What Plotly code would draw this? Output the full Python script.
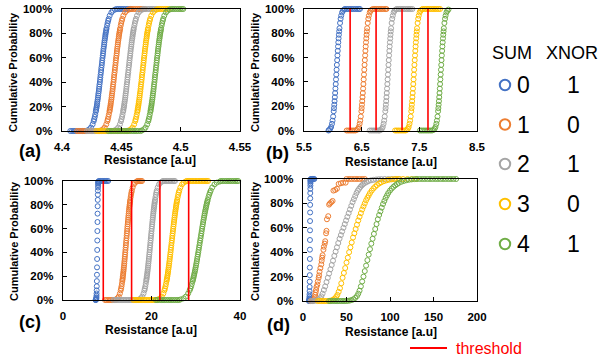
import plotly.graph_objects as go

W, H = 602, 362
FONT = "Liberation Sans, Arial, sans-serif"

# ---------------- legend data ----------------
sums = [0, 1, 2, 3, 4]
xnor = [1, 0, 1, 0, 1]
colors = ["#4472C4", "#ED7D31", "#A5A5A5", "#FFC000", "#70AD47"]
threshold_color = "#FF0000"
pct_ticks = [0, 20, 40, 60, 80, 100]
pct_labels = ["0%", "20%", "40%", "60%", "80%", "100%"]

# ---------------- panel (a) ----------------
a_levels = [0.47, 1.39, 2.87, 5.48, 8.08, 9.68, 11.51, 13.57, 15.87, 17.11, 18.41, 19.77, 21.19, 22.66,
            24.20, 25.78, 27.43, 29.12, 30.85, 32.64, 34.46, 36.32, 38.21, 40.13, 42.07, 44.04, 46.02,
            48.01, 50.0, 51.99, 53.98, 55.96, 57.93, 59.87, 61.79, 63.68, 65.54, 67.36, 69.15, 70.88,
            72.57, 74.22, 75.80, 77.34, 78.81, 80.23, 81.59, 82.89, 84.13, 86.43, 88.49, 90.32, 91.92,
            94.52, 97.13, 98.61, 99.53]
a_x0 = [4.4213, 4.4231, 4.4244, 4.4258, 4.4267, 4.4271, 4.4276, 4.4280, 4.4285, 4.4287, 4.4289, 4.4292,
        4.4294, 4.4296, 4.4298, 4.4301, 4.4303, 4.4305, 4.4307, 4.4310, 4.4312, 4.4314, 4.4316, 4.4319,
        4.4321, 4.4323, 4.4325, 4.4328, 4.4330, 4.4332, 4.4335, 4.4337, 4.4339, 4.4341, 4.4344, 4.4346,
        4.4348, 4.4350, 4.4353, 4.4355, 4.4357, 4.4359, 4.4362, 4.4364, 4.4366, 4.4368, 4.4371, 4.4373,
        4.4375, 4.4380, 4.4384, 4.4389, 4.4393, 4.4402, 4.4416, 4.4429, 4.4447]
a_x1 = [4.4328, 4.4346, 4.4359, 4.4373, 4.4382, 4.4386, 4.4391, 4.4395, 4.4400, 4.4402, 4.4404, 4.4407,
        4.4409, 4.4411, 4.4413, 4.4416, 4.4418, 4.4420, 4.4422, 4.4425, 4.4427, 4.4429, 4.4431, 4.4434,
        4.4436, 4.4438, 4.4440, 4.4443, 4.4445, 4.4447, 4.4450, 4.4452, 4.4454, 4.4456, 4.4459, 4.4461,
        4.4463, 4.4465, 4.4468, 4.4470, 4.4472, 4.4474, 4.4477, 4.4479, 4.4481, 4.4483, 4.4486, 4.4488,
        4.4490, 4.4495, 4.4499, 4.4504, 4.4508, 4.4517, 4.4531, 4.4544, 4.4562]
a_x2 = [4.4443, 4.4461, 4.4474, 4.4488, 4.4497, 4.4501, 4.4506, 4.4510, 4.4515, 4.4517, 4.4519, 4.4522,
        4.4524, 4.4526, 4.4528, 4.4531, 4.4533, 4.4535, 4.4537, 4.4540, 4.4542, 4.4544, 4.4546, 4.4549,
        4.4551, 4.4553, 4.4555, 4.4558, 4.4560, 4.4562, 4.4565, 4.4567, 4.4569, 4.4571, 4.4574, 4.4576,
        4.4578, 4.4580, 4.4583, 4.4585, 4.4587, 4.4589, 4.4592, 4.4594, 4.4596, 4.4598, 4.4601, 4.4603,
        4.4605, 4.4610, 4.4614, 4.4619, 4.4623, 4.4632, 4.4646, 4.4659, 4.4677]
a_x3 = [4.4563, 4.4581, 4.4594, 4.4608, 4.4617, 4.4621, 4.4626, 4.4630, 4.4635, 4.4637, 4.4639, 4.4642,
        4.4644, 4.4646, 4.4648, 4.4651, 4.4653, 4.4655, 4.4657, 4.4660, 4.4662, 4.4664, 4.4666, 4.4669,
        4.4671, 4.4673, 4.4675, 4.4678, 4.4680, 4.4682, 4.4685, 4.4687, 4.4689, 4.4691, 4.4694, 4.4696,
        4.4698, 4.4700, 4.4703, 4.4705, 4.4707, 4.4709, 4.4712, 4.4714, 4.4716, 4.4718, 4.4721, 4.4723,
        4.4725, 4.4730, 4.4734, 4.4739, 4.4743, 4.4752, 4.4766, 4.4779, 4.4797]
a_x4 = [4.4673, 4.4691, 4.4704, 4.4718, 4.4727, 4.4731, 4.4736, 4.4740, 4.4745, 4.4747, 4.4749, 4.4752,
        4.4754, 4.4756, 4.4758, 4.4761, 4.4763, 4.4765, 4.4767, 4.4770, 4.4772, 4.4774, 4.4776, 4.4779,
        4.4781, 4.4783, 4.4785, 4.4788, 4.4790, 4.4792, 4.4795, 4.4797, 4.4799, 4.4801, 4.4804, 4.4806,
        4.4808, 4.4810, 4.4813, 4.4815, 4.4817, 4.4819, 4.4822, 4.4824, 4.4826, 4.4828, 4.4831, 4.4833,
        4.4835, 4.4840, 4.4844, 4.4849, 4.4853, 4.4862, 4.4876, 4.4889, 4.4907]
a_low0 = [4.4070, 4.4085, 4.4100, 4.4115, 4.4130, 4.4145, 4.4160, 4.4175, 4.4190, 4.4203]
a_high0 = [4.4460, 4.4475, 4.4490, 4.4505, 4.4520, 4.4535, 4.4550, 4.4565, 4.4580]
a_low1 = [4.4126, 4.4141, 4.4156, 4.4171, 4.4186, 4.4201, 4.4216, 4.4231, 4.4246, 4.4261, 4.4276,
          4.4291, 4.4306, 4.4318]
a_high1 = [4.4575, 4.4590, 4.4605, 4.4620, 4.4635, 4.4650, 4.4665, 4.4680, 4.4695]
a_low2 = [4.4210, 4.4225, 4.4240, 4.4255, 4.4270, 4.4285, 4.4300, 4.4315, 4.4330, 4.4345, 4.4360,
          4.4375, 4.4390, 4.4405, 4.4420, 4.4433]
a_high2 = [4.4690, 4.4705, 4.4720, 4.4735, 4.4750, 4.4765, 4.4780, 4.4795]
a_low3 = [4.4290, 4.4305, 4.4320, 4.4335, 4.4350, 4.4365, 4.4380, 4.4395, 4.4410, 4.4425, 4.4440,
          4.4455, 4.4470, 4.4485, 4.4500, 4.4515, 4.4530, 4.4545, 4.4555]
a_high3 = [4.4810, 4.4825, 4.4840, 4.4855, 4.4870, 4.4885, 4.4900]
a_low4 = [4.4390, 4.4405, 4.4420, 4.4435, 4.4450, 4.4465, 4.4480, 4.4495, 4.4510, 4.4525, 4.4540,
          4.4555, 4.4570, 4.4585, 4.4600, 4.4615, 4.4630, 4.4645, 4.4663]
a_high4 = [4.4920, 4.4935, 4.4950, 4.4965, 4.4980, 4.4995, 4.5010, 4.5022]

# ---------------- panel (b) ----------------
b_levels = [0.47, 1.39, 2.87, 5.48, 8.08, 11.51, 15.87, 18.41, 21.19, 24.20, 27.43, 30.85, 34.46, 38.21,
            42.07, 46.02, 50.0, 53.98, 57.93, 61.79, 65.54, 69.15, 72.57, 75.80, 78.81, 81.59, 84.13,
            88.49, 91.92, 94.52, 97.13, 98.61, 99.53]
b_x0 = [5.935, 5.955, 5.97, 5.985, 5.995, 6.005, 6.015, 6.02, 6.025, 6.03, 6.035, 6.04, 6.045, 6.05,
        6.055, 6.06, 6.065, 6.07, 6.075, 6.08, 6.085, 6.09, 6.095, 6.1, 6.105, 6.11, 6.115, 6.125,
        6.135, 6.145, 6.16, 6.175, 6.195]
b_x1 = [6.415, 6.435, 6.45, 6.465, 6.475, 6.485, 6.495, 6.5, 6.505, 6.51, 6.515, 6.52, 6.525, 6.53,
        6.535, 6.54, 6.545, 6.55, 6.555, 6.56, 6.565, 6.57, 6.575, 6.58, 6.585, 6.59, 6.595, 6.605,
        6.615, 6.625, 6.64, 6.655, 6.675]
b_x2 = [6.83, 6.85, 6.865, 6.88, 6.89, 6.90, 6.91, 6.915, 6.92, 6.925, 6.93, 6.935, 6.94, 6.945,
        6.95, 6.955, 6.96, 6.965, 6.97, 6.975, 6.98, 6.985, 6.99, 6.995, 7.0, 7.005, 7.01, 7.02,
        7.03, 7.04, 7.055, 7.07, 7.09]
b_x3 = [7.28, 7.30, 7.315, 7.33, 7.34, 7.35, 7.36, 7.365, 7.37, 7.375, 7.38, 7.385, 7.39, 7.395,
        7.40, 7.405, 7.41, 7.415, 7.42, 7.425, 7.43, 7.435, 7.44, 7.445, 7.45, 7.455, 7.46, 7.47,
        7.48, 7.49, 7.505, 7.52, 7.54]
b_x4 = [7.745, 7.765, 7.78, 7.795, 7.805, 7.815, 7.825, 7.83, 7.835, 7.84, 7.845, 7.85, 7.855, 7.86,
        7.865, 7.87, 7.875, 7.88, 7.885, 7.89, 7.895, 7.90, 7.905, 7.91, 7.915, 7.92, 7.925, 7.935,
        7.945, 7.955, 7.97, 7.985, 8.005]
b_low0 = [5.925]
b_high0 = [6.21, 6.24, 6.27, 6.30, 6.33, 6.36, 6.39, 6.42, 6.45, 6.47]
b_low1 = [6.24, 6.27, 6.30, 6.33, 6.36, 6.39]
b_high1 = [6.70, 6.73, 6.76, 6.79, 6.82, 6.85, 6.88, 6.91, 6.93]
b_low2 = [6.64, 6.67, 6.70, 6.73, 6.76, 6.79, 6.81]
b_high2 = [7.11, 7.14, 7.17, 7.20, 7.23, 7.26, 7.29, 7.32, 7.35, 7.38]
b_low3 = [7.08, 7.11, 7.14, 7.17, 7.20, 7.23, 7.26]
b_high3 = [7.56, 7.59, 7.62, 7.65, 7.68, 7.71, 7.74, 7.77, 7.80, 7.83, 7.86]
b_low4 = [7.51, 7.54, 7.57, 7.60, 7.63, 7.66, 7.69, 7.72]
b_high4 = []
b_thresholds = [6.30, 6.75, 7.20, 7.65]

# ---------------- panel (c) ----------------
steep_levels = [0.47, 0.82, 1.39, 2.28, 3.59, 5.48, 8.08, 11.51, 15.87, 21.19, 27.43, 34.46, 42.07,
                50.0, 57.93, 65.54, 72.57, 78.81, 84.13, 88.49, 91.92, 94.52, 96.41, 97.72, 98.61,
                99.18, 99.53]
c_x0 = [7.49, 7.51, 7.53, 7.55, 7.57, 7.59, 7.61, 7.63, 7.65, 7.67, 7.69, 7.71, 7.73, 7.75, 7.77,
        7.79, 7.81, 7.83, 7.85, 7.87, 7.89, 7.91, 7.93, 7.95, 7.97, 7.99, 8.01]
c_x1 = [11.96, 12.32, 12.59, 12.86, 13.04, 13.13, 13.22, 13.31, 13.40, 13.44, 13.49, 13.53, 13.58,
        13.62, 13.67, 13.71, 13.76, 13.80, 13.85, 13.89, 13.94, 13.98, 14.03, 14.07, 14.12, 14.16,
        14.21, 14.25, 14.30, 14.35, 14.39, 14.44, 14.48, 14.53, 14.57, 14.62, 14.66, 14.71, 14.75,
        14.80, 14.84, 14.89, 14.93, 14.98, 15.02, 15.07, 15.11, 15.16, 15.20, 15.29, 15.38, 15.47,
        15.56, 15.74, 16.01, 16.28, 16.64]
c_x2 = [17.2, 17.6, 17.9, 18.2, 18.4, 18.5, 18.6, 18.7, 18.8, 18.85, 18.9, 18.95, 19.0, 19.05, 19.1,
        19.15, 19.2, 19.25, 19.3, 19.35, 19.4, 19.45, 19.5, 19.55, 19.6, 19.65, 19.7, 19.75, 19.8,
        19.85, 19.9, 19.95, 20.0, 20.05, 20.1, 20.15, 20.2, 20.25, 20.3, 20.35, 20.4, 20.45, 20.5,
        20.55, 20.6, 20.65, 20.7, 20.75, 20.8, 20.9, 21.0, 21.1, 21.2, 21.4, 21.7, 22.0, 22.4]
c_x3 = [21.48, 21.96, 22.32, 22.68, 22.92, 23.04, 23.16, 23.28, 23.40, 23.46, 23.52, 23.58, 23.64,
        23.70, 23.76, 23.82, 23.88, 23.94, 24.00, 24.06, 24.12, 24.18, 24.24, 24.30, 24.36, 24.42,
        24.48, 24.54, 24.60, 24.66, 24.72, 24.78, 24.84, 24.90, 24.96, 25.02, 25.08, 25.14, 25.20,
        25.26, 25.32, 25.38, 25.44, 25.50, 25.56, 25.62, 25.68, 25.74, 25.80, 25.92, 26.04, 26.16,
        26.28, 26.52, 26.88, 27.24, 27.72]
c_x4 = [26.58, 27.26, 27.77, 28.28, 28.62, 28.79, 28.96, 29.13, 29.30, 29.38, 29.47, 29.55, 29.64,
        29.72, 29.81, 29.89, 29.98, 30.06, 30.15, 30.23, 30.32, 30.40, 30.49, 30.57, 30.66, 30.74,
        30.83, 30.91, 31.00, 31.09, 31.17, 31.26, 31.34, 31.43, 31.51, 31.60, 31.68, 31.77, 31.85,
        31.94, 32.02, 32.11, 32.19, 32.28, 32.36, 32.45, 32.53, 32.62, 32.70, 32.87, 33.04, 33.21,
        33.38, 33.72, 34.23, 34.74, 35.42]
c_low0 = [7.35, 7.42]
c_high0 = [8.1, 8.4, 8.7, 9.0, 9.3, 9.6, 9.9, 10.2]
c_low1 = [9.5, 9.85, 10.2, 10.55, 10.9, 11.25, 11.6, 11.85]
c_high1 = [16.85, 17.1, 17.35, 17.6, 17.85]
c_low2 = [11.4, 11.75, 12.1, 12.45, 12.8, 13.15, 13.5, 13.85, 14.2, 14.55, 14.9, 15.25, 15.6, 15.95,
          16.3, 16.65, 17.0]
c_high2 = [22.6, 22.95, 23.3, 23.65, 24.0, 24.35, 24.7, 25.05, 25.3]
c_low3 = [15.9, 16.25, 16.6, 16.95, 17.3, 17.65, 18.0, 18.35, 18.7, 19.05, 19.4, 19.75, 20.1, 20.45,
          20.8, 21.15]
c_high3 = [27.95, 28.3, 28.65, 29.0, 29.35, 29.7, 30.05, 30.4, 30.75, 31.1, 31.45, 31.8, 32.15,
           32.5, 32.8]
c_low4 = [21.0, 21.4, 21.8, 22.2, 22.6, 23.0, 23.4, 23.8, 24.2, 24.6, 25.0, 25.4, 25.8, 26.2]
c_high4 = [35.7, 36.1, 36.5, 36.9, 37.3, 37.7, 38.1, 38.5, 38.9, 39.3, 39.6]
c_thresholds = [9.1, 15.5, 21.9, 28.4]

# ---------------- panel (d) ----------------
d_x0 = [7.22, 7.28, 7.34, 7.40, 7.46, 7.52, 7.58, 7.64, 7.70, 7.76, 7.82, 7.88, 7.94, 8.0, 8.06,
        8.12, 8.18, 8.24, 8.30, 8.36, 8.42, 8.48, 8.54, 8.60, 8.66, 8.72, 8.78]
d_low0 = [6.8]
d_high0 = [9.0, 9.8, 10.6, 11.4, 12.2, 13.0]
d_x1 = [9, 10.5, 12, 13, 13.5, 14, 14.5, 15, 15.5, 16.5, 17, 18, 18.5, 19, 20, 21, 21.5, 22, 22.5,
        23.5, 24, 25, 25.5, 26.5, 27, 27.5, 29, 30, 31, 32.5, 34, 35, 37, 39, 41, 43.5, 46, 49, 50,
        53, 56, 59, 62, 65, 68, 71]
d_y1 = [0, 0, 0.5, 1.5, 3, 5, 7, 9, 11.5, 13.5, 16, 19, 21, 24, 27, 30, 33, 35.5, 37.5, 42, 44.5,
        47, 49, 55.5, 57.5, 67, 69.5, 79, 80, 81, 82, 90.5, 91, 92, 96, 96.5, 97, 97, 100, 100, 100,
        100, 100, 100, 100, 100]
d_x2 = [9, 10.5, 12, 14, 16, 18, 19.5, 21, 22.5, 24, 25.5, 27, 28.5, 30, 31.5, 33, 34.5, 36, 37.5,
        39, 40.5, 42, 43.5, 45, 46.5, 48, 49.5, 51, 52.5, 54, 55.5, 57, 58.5, 60, 61.5, 63, 64.5, 66,
        67.5, 69, 71, 73, 75, 78, 81, 84, 87, 90, 94, 98, 102, 106, 110]
d_y2 = [0, 0, 0, 0.2, 0.5, 1.2, 2.2, 3.8, 6, 9, 12, 15.5, 19, 22.5, 26, 29.5, 33, 37, 40.5, 44,
        47.5, 51, 54, 57, 60, 63, 66, 69, 72, 75, 78, 81, 83.5, 86, 88.5, 90.5, 92, 93.5, 94.7, 95.7,
        96.7, 97.5, 98.2, 98.9, 99.3, 99.6, 99.8, 99.9, 100, 100, 100, 100, 100]
d_x3 = [17, 19, 21, 23, 25, 27, 29, 31, 33, 35, 36.5, 38, 39.5, 41, 42.5, 44, 45.5, 47, 48.5, 50,
        51.5, 53, 54.5, 56, 57.5, 59, 60.5, 62, 63.5, 65, 66.5, 68, 69.5, 71, 72.5, 74, 75.5, 77, 79,
        81, 83, 85, 87.5, 90, 93, 96, 99, 102, 105, 108, 111, 115, 120, 125, 130]
d_y3 = [0, 0, 0, 0, 0, 0, 0, 0.2, 0.5, 1.2, 2, 3.2, 5, 7.5, 10.5, 14.5, 19, 23, 27, 31.5, 35.5, 40,
        44, 48, 52, 55.5, 59, 62.5, 66, 69, 72, 75, 77.5, 80, 82.5, 84.5, 86.5, 88.5, 90.5, 92.3,
        93.7, 95, 96.3, 97.3, 98.2, 98.9, 99.4, 99.7, 99.9, 100, 100, 100, 100, 100, 100]
d_x4 = [30, 32, 34, 36, 38, 40, 42, 44, 46, 48, 50, 52, 54, 56, 58, 60, 62, 63.5, 65, 66.5, 68, 69.5,
        71, 72.5, 74, 75.5, 77, 78.5, 80, 81.5, 83, 84.5, 86, 87.5, 89, 90.5, 92, 93.5, 95, 96.5, 98,
        100, 102, 104, 106, 108, 110, 113, 116, 119, 122, 125, 128, 131, 134, 137, 140, 143, 146,
        149, 152, 155, 158, 161, 164, 167, 170, 173, 176]
d_y4 = [0, 0, 0, 0, 0, 0, 0, 0, 0, 0, 0, 0.2, 0.4, 0.8, 1.4, 2.5, 4, 6, 8.5, 12, 16, 20, 24.5, 29,
        33.5, 38, 42.5, 47, 51, 55, 59, 63, 67, 70.5, 73.5, 76.5, 79.5, 82, 84.5, 86.5, 88.5, 90.5,
        92.2, 93.6, 94.8, 95.8, 96.7, 97.7, 98.4, 99, 99.4, 99.7, 99.9, 100, 100, 100, 100, 100, 100,
        100, 100, 100, 100, 100, 100, 100, 100, 100, 100]

# ---------------- figure ----------------
MS, MLW = 5, 1.0
fig = go.Figure()


def add_points(xa, ya, xs, ys, color):
    fig.add_trace(go.Scatter(
        x=xs, y=ys, xaxis=xa, yaxis=ya, mode="markers",
        marker=dict(symbol="circle-open", size=MS, color=color, line=dict(width=MLW, color=color)),
        cliponaxis=False, showlegend=False, hoverinfo="skip"))


def add_cdf(xa, ya, low, mid, levels, high, color):
    xs = list(low) + list(mid) + list(high)
    ys = [0] * len(low) + list(levels) + [100] * len(high)
    add_points(xa, ya, xs, ys, color)


def add_thresholds(xa, ya, thr):
    for t in thr:
        fig.add_trace(go.Scatter(x=[t, t], y=[0, 100], xaxis=xa, yaxis=ya, mode="lines",
                                 line=dict(color=threshold_color, width=1.6),
                                 showlegend=False, hoverinfo="skip"))


a_series = [(a_low0, a_x0, a_high0), (a_low1, a_x1, a_high1), (a_low2, a_x2, a_high2),
            (a_low3, a_x3, a_high3), (a_low4, a_x4, a_high4)]
for (lo, mid, hi), col in zip(a_series, colors):
    add_cdf("x", "y", lo, mid, a_levels, hi, col)

b_series = [(b_low0, b_x0, b_high0), (b_low1, b_x1, b_high1), (b_low2, b_x2, b_high2),
            (b_low3, b_x3, b_high3), (b_low4, b_x4, b_high4)]
for (lo, mid, hi), col in zip(b_series, colors):
    add_cdf("x2", "y2", lo, mid, b_levels, hi, col)
add_thresholds("x2", "y2", b_thresholds)

c_series = [(c_low0, c_x0, steep_levels, c_high0), (c_low1, c_x1, a_levels, c_high1),
            (c_low2, c_x2, a_levels, c_high2), (c_low3, c_x3, a_levels, c_high3),
            (c_low4, c_x4, a_levels, c_high4)]
for (lo, mid, lev, hi), col in zip(c_series, colors):
    add_cdf("x3", "y3", lo, mid, lev, hi, col)
add_thresholds("x3", "y3", c_thresholds)

add_cdf("x4", "y4", d_low0, d_x0, steep_levels, d_high0, colors[0])
for xs, ys, col in zip([d_x1, d_x2, d_x3, d_x4], [d_y1, d_y2, d_y3, d_y4], colors[1:]):
    add_points("x4", "y4", xs, ys, col)


def px(v):
    return v / W


def py(v):
    return 1 - v / H


tickfont = dict(family=FONT, size=11.5, color="black", weight="bold")
common = dict(showline=True, linecolor="black", linewidth=1.3, mirror=True, ticks="inside",
              ticklen=4, tickwidth=1, tickcolor="black", showgrid=False, zeroline=False,
              tickfont=tickfont, fixedrange=True, automargin=False)
ycommon = dict(common, range=[0, 100], tickmode="array", tickvals=pct_ticks, ticktext=pct_labels,
               ticklabelstandoff=6)
xcommon = dict(common, tickmode="array", ticklabelstandoff=5)

fig.update_layout(
    width=W, height=H, margin=dict(l=0, r=0, t=0, b=0, pad=0), autosize=False,
    paper_bgcolor="white", plot_bgcolor="white", showlegend=False,
    xaxis=dict(xcommon, domain=[px(62), px(240)], anchor="y", range=[4.4, 4.55],
               tickvals=[4.4, 4.45, 4.5, 4.55], ticktext=["4.4", "4.45", "4.5", "4.55"]),
    yaxis=dict(ycommon, domain=[py(131), py(9)], anchor="x"),
    xaxis2=dict(xcommon, domain=[px(304), px(477)], anchor="y2", range=[5.5, 8.5],
                tickvals=[5.5, 6.5, 7.5, 8.5], ticktext=["5.5", "6.5", "7.5", "8.5"]),
    yaxis2=dict(ycommon, domain=[py(130.5), py(9)], anchor="x2"),
    xaxis3=dict(xcommon, domain=[px(63), px(240)], anchor="y3", range=[0, 40],
                tickvals=[0, 20, 40], ticktext=["0", "20", "40"]),
    yaxis3=dict(ycommon, domain=[py(300), py(181)], anchor="x3"),
    xaxis4=dict(xcommon, domain=[px(303), px(477)], anchor="y4", range=[0, 200],
                tickvals=[0, 50, 100, 150, 200], ticktext=["0", "50", "100", "150", "200"]),
    yaxis4=dict(ycommon, domain=[py(301), py(179)], anchor="x4"),
)

ann = []


def text(x, y, s, size, bold=False, color="black", xanchor="center", angle=0):
    ann.append(dict(x=px(x), y=py(y), xref="paper", yref="paper", text=s, showarrow=False,
                    xanchor=xanchor, yanchor="middle", textangle=angle,
                    font=dict(family=FONT, size=size, color=color,
                              weight="bold" if bold else "normal")))


# axis titles
for cx, cy in [(150, 160), (391, 162), (151, 330), (391, 332)]:
    text(cx, cy, "Resistance [a.u]", 12, bold=True)
for cx, cy in [(13, 72), (255, 72), (14, 241), (255, 241)]:
    text(cx, cy, "Cumulative Probability", 11, bold=True, angle=-90)
# panel labels
for lab, cx, cy in [("(a)", 30, 151), ("(b)", 277, 153), ("(c)", 30, 322), ("(d)", 278, 325)]:
    text(cx, cy, lab, 18, bold=True)

# legend
text(512, 53, "SUM", 18)
text(572, 53, "XNOR", 18)
shapes = []
row_y = [85, 124.5, 164, 204, 244]
for s, xv, col, ry in zip(sums, xnor, colors, row_y):
    text(523, ry, str(s), 23)
    text(573, ry, str(xv), 23)
    r = 5.2
    shapes.append(dict(type="circle", xref="paper", yref="paper",
                       x0=px(505 - r), x1=px(505 + r), y0=py(ry + r), y1=py(ry - r),
                       line=dict(color=col, width=2)))
shapes.append(dict(type="line", xref="paper", yref="paper", x0=px(410), x1=px(447),
                   y0=py(348), y1=py(348), line=dict(color=threshold_color, width=1.8)))
text(454, 348, "threshold", 16, color=threshold_color, xanchor="left")

fig.update_layout(annotations=ann, shapes=shapes)
fig.write_html("out.html", config={"displayModeBar": False, "staticPlot": True},
               post_script="document.body.style.margin='0px';document.body.style.padding='0px';")
